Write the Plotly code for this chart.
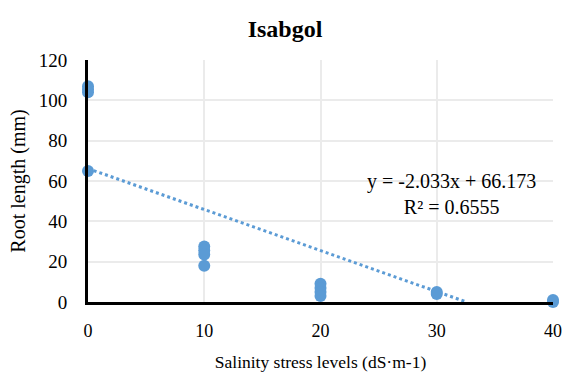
import plotly.graph_objects as go

salinity = [0, 0, 0, 0, 10, 10, 10, 10, 20, 20, 20, 20, 30, 30, 40, 40]
root_length = [107, 105.5, 104, 65, 27.5, 25.5, 23.5, 18, 9, 7, 5, 3, 5, 4, 1, 0]
slope = -2.033
intercept = 66.173
r2 = 0.6555
x_ticks = [0, 10, 20, 30, 40]
y_ticks = [0, 20, 40, 60, 80, 100, 120]

blue = "#5B9BD5"
font_family = "Liberation Serif"

x_end = -intercept / slope
fig = go.Figure()
fig.add_trace(go.Scatter(
    x=[0, x_end], y=[intercept, 0], mode="lines",
    line=dict(color=blue, width=3, dash="dot"), hoverinfo="skip", showlegend=False,
))
fig.add_trace(go.Scatter(
    x=salinity, y=root_length, mode="markers",
    marker=dict(color=blue, size=12), cliponaxis=False, showlegend=False,
))

fig.add_annotation(
    x=(451 - 88) / (553 - 88), y=(302 - 194) / (302 - 60), xref="paper", yref="paper",
    text=f"y = {slope}x + {intercept}<br>R² = {r2}",
    showarrow=False, align="center",
    font=dict(family=font_family, size=20, color="black"),
    xanchor="center", yanchor="middle",
)

fig.update_layout(
    width=566, height=373,
    margin=dict(l=88, r=13, t=60, b=71, autoexpand=False),
    paper_bgcolor="white", plot_bgcolor="white",
    font=dict(family=font_family, color="black", size=18),
    title=dict(text="<b>Isabgol</b>", x=285 / 566, xref="container", y=1 - 29 / 373, yanchor="middle",
               xanchor="center", font=dict(size=24, family=font_family)),
    xaxis=dict(
        range=[0, 40], tickvals=x_ticks, showgrid=True, gridcolor="#EBEBEB", gridwidth=1.5,
        showline=True, linecolor="black", linewidth=3, zeroline=False, ticks="",
        ticklabelstandoff=10, automargin=False,
        title=dict(text="Salinity stress levels (dS·m-1)", font=dict(size=17.5), standoff=17),
        tickfont=dict(size=18),
    ),
    yaxis=dict(
        range=[0, 120], tickvals=y_ticks, showgrid=True, gridcolor="#EBEBEB", gridwidth=1.5,
        showline=True, linecolor="black", linewidth=3, zeroline=False, ticks="",
        ticklabelstandoff=14, automargin=False,
        title=dict(text="Root length (mm)", font=dict(size=20), standoff=8),
        tickfont=dict(size=19),
    ),
)

fig.write_html("out.html")
